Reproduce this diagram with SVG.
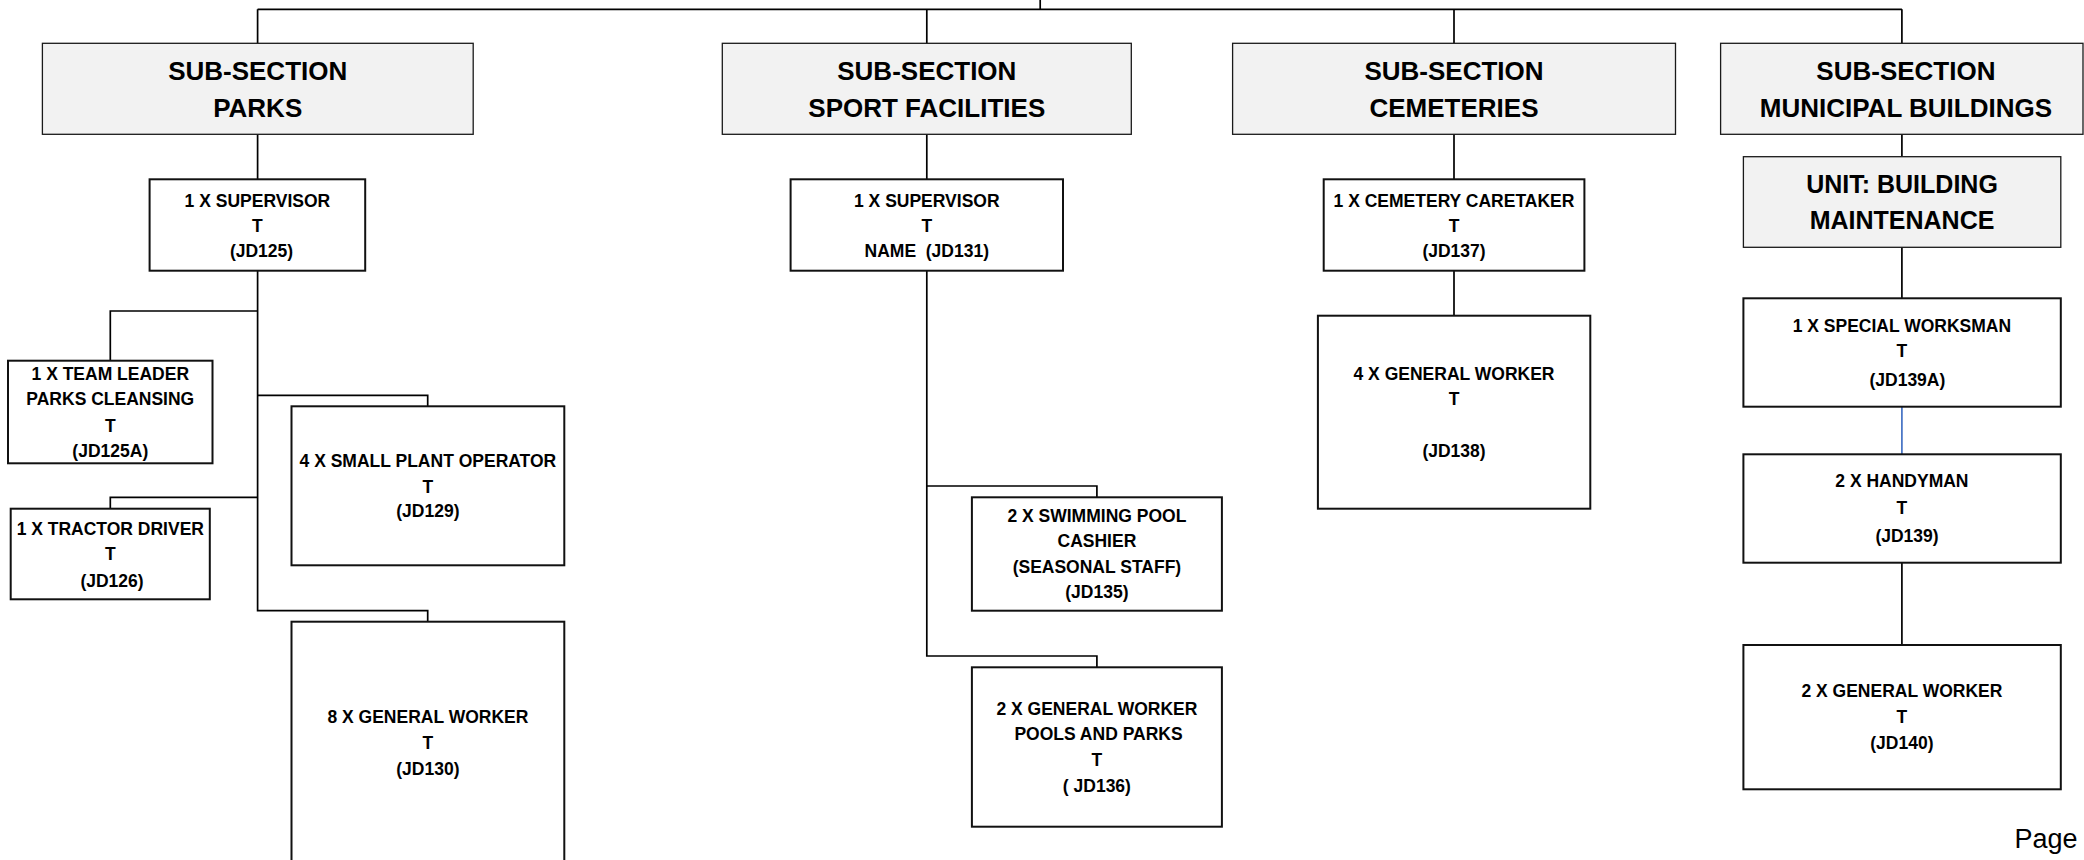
<svg xmlns="http://www.w3.org/2000/svg" width="2084" height="860" viewBox="0 0 2084 860">
  <style>
    .hdr { fill: #f2f2f2; stroke: #1a1a1a; stroke-width: 1.3; }
    .box { fill: #ffffff; stroke: #111111; stroke-width: 2; }
    .ht { font-family: "Liberation Sans", Arial, sans-serif; font-weight: bold; font-size: 26px; text-anchor: middle; fill: #000; }
    .ut { font-family: "Liberation Sans", Arial, sans-serif; font-weight: bold; font-size: 25px; text-anchor: middle; fill: #000; }
    .bt { font-family: "Liberation Sans", Arial, sans-serif; font-weight: bold; font-size: 17.5px; text-anchor: middle; fill: #000; }
    .conn { stroke: #000; stroke-width: 1.7; fill: none; }
    .conn-blue { stroke: #4472c4; stroke-width: 1.7; fill: none; }
    .page { font-family: "Liberation Sans", Arial, sans-serif; font-size: 27px; fill: #000; }
  </style>

  <!-- connectors -->
  <g id="connectors">
    <!-- top bus -->
    <path class="conn" d="M1040.2 0 V9.3 M257.6 9.3 H1901.9 M257.6 9.3 V43.3 M926.8 9.3 V43.3 M1454 9.3 V43.3 M1901.9 9.3 V43.3"/>
    <!-- parks -->
    <path class="conn" d="M257.6 134.3 V179.3 M257.6 270.7 V610.7 H427.7 V621.7"/>
    <path class="conn" d="M257.6 311 H110.3 V360.7"/>
    <path class="conn" d="M257.6 395.3 H427.7 V406.3"/>
    <path class="conn" d="M257.6 497.3 H110.3 V508.7"/>
    <!-- sport facilities -->
    <path class="conn" d="M926.8 134.3 V179.3 M926.8 270.7 V656 H1096.9 V667.3"/>
    <path class="conn" d="M926.8 486 H1096.9 V497.3"/>
    <!-- cemeteries -->
    <path class="conn" d="M1454 134.3 V179.3 M1454 270.7 V315.7"/>
    <!-- municipal buildings -->
    <path class="conn" d="M1901.9 134.3 V156.7 M1901.9 247.3 V298.3"/>
    <path class="conn-blue" d="M1901.9 406.7 V454.3"/>
    <path class="conn" d="M1901.9 562.7 V648.3"/>
  </g>

  <!-- sub-section: parks -->
  <g id="hdr-parks">
    <rect class="hdr" x="42.4" y="43.3" width="430.8" height="91"/>
    <text class="ht" x="257.7"><tspan x="257.7" y="80">SUB-SECTION</tspan><tspan x="257.7" y="117.3">PARKS</tspan></text>
  </g>
  <g id="parks-supervisor">
    <rect class="box" x="149.6" y="179.3" width="215.6" height="91.4"/>
    <text class="bt"><tspan x="257.4" y="206.7">1 X SUPERVISOR</tspan><tspan x="257.4" y="231.7">T</tspan><tspan x="261.5" y="256.7">(JD125)</tspan></text>
  </g>
  <g id="parks-team-leader">
    <rect class="box" x="8" y="360.7" width="204.5" height="102.6"/>
    <text class="bt"><tspan x="110.3" y="380">1 X TEAM LEADER</tspan><tspan x="110.3" y="405">PARKS CLEANSING</tspan><tspan x="110.3" y="431.7">T</tspan><tspan x="110.3" y="456.7">(JD125A)</tspan></text>
  </g>
  <g id="parks-small-plant">
    <rect class="box" x="291.5" y="406.3" width="272.8" height="159"/>
    <text class="bt"><tspan x="427.9" y="466.7">4 X SMALL PLANT OPERATOR</tspan><tspan x="427.9" y="492.7">T</tspan><tspan x="427.9" y="517.3">(JD129)</tspan></text>
  </g>
  <g id="parks-tractor">
    <rect class="box" x="10.7" y="508.7" width="199.1" height="90.6"/>
    <text class="bt"><tspan x="110.3" y="535">1 X TRACTOR DRIVER</tspan><tspan x="110.3" y="560">T</tspan><tspan x="112" y="586.7">(JD126)</tspan></text>
  </g>
  <g id="parks-general-worker">
    <rect class="box" x="291.5" y="621.7" width="272.8" height="245"/>
    <text class="bt"><tspan x="427.9" y="723.3">8 X GENERAL WORKER</tspan><tspan x="427.9" y="749.3">T</tspan><tspan x="427.9" y="775">(JD130)</tspan></text>
  </g>

  <!-- sub-section: sport facilities -->
  <g id="hdr-sport">
    <rect class="hdr" x="722.3" y="43.3" width="409" height="91"/>
    <text class="ht"><tspan x="926.8" y="80">SUB-SECTION</tspan><tspan x="926.8" y="117.3">SPORT FACILITIES</tspan></text>
  </g>
  <g id="sport-supervisor">
    <rect class="box" x="790.6" y="179.3" width="272.4" height="91.4"/>
    <text class="bt"><tspan x="926.8" y="206.7">1 X SUPERVISOR</tspan><tspan x="926.8" y="231.7">T</tspan><tspan x="926.8" y="256.7" xml:space="preserve">NAME  (JD131)</tspan></text>
  </g>
  <g id="sport-cashier">
    <rect class="box" x="971.9" y="497.3" width="250" height="113.4"/>
    <text class="bt"><tspan x="1096.9" y="521.7">2 X SWIMMING POOL</tspan><tspan x="1096.9" y="546.7">CASHIER</tspan><tspan x="1096.9" y="573.3">(SEASONAL STAFF)</tspan><tspan x="1096.9" y="598.3">(JD135)</tspan></text>
  </g>
  <g id="sport-general-worker">
    <rect class="box" x="971.9" y="667.3" width="250" height="159.4"/>
    <text class="bt"><tspan x="1096.9" y="715">2 X GENERAL WORKER</tspan><tspan x="1098.5" y="740">POOLS AND PARKS</tspan><tspan x="1096.9" y="766">T</tspan><tspan x="1096.9" y="791.7">( JD136)</tspan></text>
  </g>

  <!-- sub-section: cemeteries -->
  <g id="hdr-cemeteries">
    <rect class="hdr" x="1232.6" y="43.3" width="442.9" height="91"/>
    <text class="ht"><tspan x="1454" y="80">SUB-SECTION</tspan><tspan x="1454" y="117.3">CEMETERIES</tspan></text>
  </g>
  <g id="cemetery-caretaker">
    <rect class="box" x="1323.7" y="179.3" width="260.7" height="91.4"/>
    <text class="bt"><tspan x="1454" y="206.7">1 X CEMETERY CARETAKER</tspan><tspan x="1454" y="231.7">T</tspan><tspan x="1454" y="256.7">(JD137)</tspan></text>
  </g>
  <g id="cemetery-general-worker">
    <rect class="box" x="1317.9" y="315.7" width="272.4" height="193"/>
    <text class="bt"><tspan x="1454" y="380">4 X GENERAL WORKER</tspan><tspan x="1454" y="405">T</tspan><tspan x="1454" y="456.7">(JD138)</tspan></text>
  </g>

  <!-- sub-section: municipal buildings -->
  <g id="hdr-municipal">
    <rect class="hdr" x="1720.6" y="43.3" width="362.4" height="91"/>
    <text class="ht"><tspan x="1905.9" y="80">SUB-SECTION</tspan><tspan x="1905.9" y="117.3">MUNICIPAL BUILDINGS</tspan></text>
  </g>
  <g id="unit-building-maintenance">
    <rect class="hdr" x="1743.4" y="156.7" width="317.4" height="90.6"/>
    <text class="ut"><tspan x="1902" y="193.3">UNIT: BUILDING</tspan><tspan x="1902" y="229.3">MAINTENANCE</tspan></text>
  </g>
  <g id="special-workman">
    <rect class="box" x="1743.4" y="298.3" width="317.4" height="108.4"/>
    <text class="bt"><tspan x="1901.9" y="331.7">1 X SPECIAL WORKSMAN</tspan><tspan x="1901.9" y="357.3">T</tspan><tspan x="1907.4" y="386">(JD139A)</tspan></text>
  </g>
  <g id="handyman">
    <rect class="box" x="1743.4" y="454.3" width="317.4" height="108.4"/>
    <text class="bt"><tspan x="1901.9" y="487.3">2 X HANDYMAN</tspan><tspan x="1901.9" y="514.3">T</tspan><tspan x="1907" y="542.3">(JD139)</tspan></text>
  </g>
  <g id="municipal-general-worker">
    <rect class="box" x="1743.4" y="645" width="317.4" height="144.3"/>
    <text class="bt"><tspan x="1901.9" y="697.3">2 X GENERAL WORKER</tspan><tspan x="1901.9" y="723.3">T</tspan><tspan x="1901.9" y="749.3">(JD140)</tspan></text>
  </g>

  <!-- page footer -->
  <text class="page" x="2014.4" y="848.3">Page</text>
</svg>
